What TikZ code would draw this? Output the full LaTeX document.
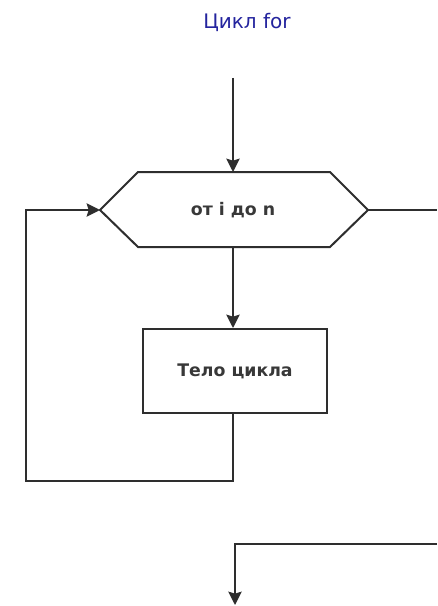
\documentclass[tikz,border=0pt]{standalone}
\usepackage{fontspec}
\setmainfont{DejaVu Sans}
\usetikzlibrary{arrows.meta}
\definecolor{linegray}{HTML}{2E2E2E}
\definecolor{titleblue}{HTML}{24249E}
\tikzset{
  flow/.style={draw=linegray, line width=1.5pt},
  arr/.style={flow, -{Stealth[length=10pt,width=10pt,inset=1.5pt]}},
  lbl/.style={font=\fontsize{13}{15}\selectfont\bfseries, text=black!78},
}
\begin{document}
\begin{tikzpicture}[x=0.75pt,y=-0.75pt]
  \useasboundingbox (0,0) rectangle (437,606);
  \fill[white] (0,0) rectangle (437,606);

  % title
  \node[font=\fontsize{15}{18}\selectfont, text=titleblue] (title) at (247,22) {Цикл for};

  % loop header (hexagon)
  \coordinate (hl) at (100,210);
  \coordinate (hr) at (368,210);
  \coordinate (ht) at (233,172);
  \coordinate (hb) at (233,247);
  \draw[flow, fill=white] (hl) -- (138,172) -- (330,172) -- (hr) -- (330,247) -- (138,247) -- cycle;
  \node[lbl] (hdr) at (233,210) {от і до n};

  % loop body
  \node[flow, fill=white, minimum width=138pt, minimum height=63pt, inner sep=0pt, lbl] (body) at (235,371) {Тело цикла};

  % entry
  \coordinate (entry) at (233,78);
  \draw[arr] (entry) -- (ht);

  % header to body
  \draw[arr] (hb) -- (body.north -| hb);

  % back edge
  \coordinate (bk1) at (233,481);
  \coordinate (bk2) at (26,481);
  \draw[arr] (body.south -| hb) -- (bk1) -- (bk2) -- (bk2 |- hl) -- (hl);

  % exit
  \coordinate (ex0) at (437,210);
  \draw[flow] (hr) -- (ex0);
  \coordinate (ex1) at (437,544);
  \coordinate (ex2) at (235,544);
  \coordinate (ex3) at (235,605);
  \draw[arr] (ex1) -- (ex2) -- (ex3);
\end{tikzpicture}
\end{document}
